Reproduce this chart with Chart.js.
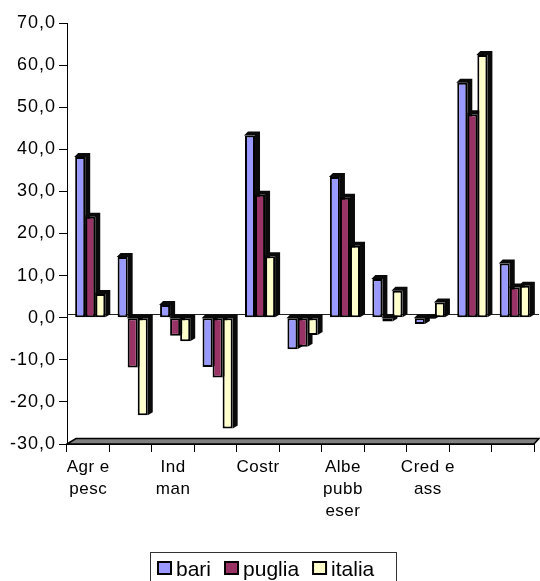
<!DOCTYPE html>
<html>
<head>
<meta charset="utf-8">
<script src="https://cdn.jsdelivr.net/npm/chart.js@4/dist/chart.umd.min.js"></script>
<style>
  html, body { margin: 0; padding: 0; background: #fff; }
  canvas { display: block; }
</style>
</head>
<body>
<canvas id="c" width="540" height="581"></canvas>
<script>
// Sector labels (only every other sector is labelled on the axis)
const categories = [['Agr e', 'pesc'], '', ['Ind', 'man'], '', 'Costr', '', ['Albe', 'pubb', 'eser'], '', ['Cred e', 'ass'], '', ''];
const seriesNames = ['bari', 'puglia', 'italia'];
const bari   = [38.2, 14.4,  3.0, -11.7, 43.3, -7.5, 33.4,  9.2, -1.5, 55.8, 12.9];
const puglia = [24.0, -11.8, -4.3, -14.2, 29.2, -6.9, 28.5, -0.9, -0.3, 48.3,  7.2];
const italia = [ 5.6, -23.2, -5.6, -26.3, 14.6, -4.1, 17.1,  6.4,  3.6, 62.4,  7.6];
const yMin = -30, yMax = 70, yStep = 10;

const colors = ['#9999FF', '#993366', '#FFFFCC'];
const FONT = '"Liberation Sans", Arial, sans-serif';

// Scales that draw their tick labels with a little extra letter spacing
class SpacedLinear extends Chart.LinearScale {
  drawLabels(area) {
    const c = this.ctx; c.save(); c.letterSpacing = '1px';
    super.drawLabels(area); c.restore();
  }
}
SpacedLinear.id = 'spacedLinear';
SpacedLinear.defaults = Chart.LinearScale.defaults;

class SpacedCategory extends Chart.CategoryScale {
  drawLabels(area) {
    const c = this.ctx; c.save(); c.letterSpacing = '0.5px';
    super.drawLabels(area); c.restore();
  }
}
SpacedCategory.id = 'spacedCategory';
SpacedCategory.defaults = Chart.CategoryScale.defaults;
Chart.register(SpacedLinear, SpacedCategory);

const DEPTH_X = 4, DEPTH_Y = -3, SHIFT = 2;

// Back-wall zero line, grey floor and the dark side/top faces of each column
const depthPlugin = {
  id: 'depth',
  beforeDatasetsDraw(chart) {
    const ctx = chart.ctx, a = chart.chartArea, y = chart.scales.y;
    const y0 = y.getPixelForValue(0);
    ctx.save();
    ctx.strokeStyle = '#222'; ctx.lineWidth = 1;
    ctx.beginPath(); ctx.moveTo(a.left, Math.round(y0 - 3.5) + 0.5); ctx.lineTo(a.right + 5, Math.round(y0 - 3.5) + 0.5); ctx.stroke();
    const b = y.getPixelForValue(yMin);
    ctx.fillStyle = '#808080'; ctx.strokeStyle = '#000'; ctx.lineWidth = 1.5;
    ctx.beginPath();
    ctx.moveTo(a.left, b); ctx.lineTo(a.left + 9, b - 5.5);
    ctx.lineTo(a.right + 5, b - 5.5); ctx.lineTo(a.right, b); ctx.closePath();
    ctx.fill(); ctx.stroke();
    ctx.restore();

    ctx.save();
    ctx.translate(SHIFT, 0);
    ctx.fillStyle = '#0a0a0a';
    chart.data.datasets.forEach((ds, i) => {
      chart.getDatasetMeta(i).data.forEach(bar => {
        const p = bar.getProps(['x', 'y', 'base', 'width'], true);
        const x0 = p.x - p.width / 2, x1 = p.x + p.width / 2;
        const top = Math.min(p.y, p.base), bot = Math.max(p.y, p.base);
        ctx.beginPath();
        ctx.moveTo(x0 - 1, top);
        ctx.lineTo(x0 - 1 + DEPTH_X, top + DEPTH_Y - 1);
        ctx.lineTo(x1 + 1 + DEPTH_X, top + DEPTH_Y - 1);
        ctx.lineTo(x1 + 1 + DEPTH_X, bot + DEPTH_Y);
        ctx.lineTo(x1, bot);
        ctx.lineTo(x1, top);
        ctx.closePath();
        ctx.fill();
      });
    });
  },
  afterDatasetsDraw(chart) {
    chart.ctx.restore();
  },
  afterDraw(chart) {
    const ctx = chart.ctx;
    ctx.save();
    ctx.font = '21px ' + FONT;
    ctx.strokeStyle = '#333'; ctx.lineWidth = 1;
    ctx.strokeRect(150.5, 552.5, 246, 40);
    let x = 157;
    chart.data.datasets.forEach(ds => {
      ctx.fillStyle = ds.backgroundColor;
      ctx.fillRect(x, 561, 15, 14);
      ctx.strokeStyle = '#000'; ctx.lineWidth = 2;
      ctx.strokeRect(x + 1, 562, 13, 12);
      ctx.fillStyle = '#000'; ctx.textBaseline = 'alphabetic';
      ctx.fillText(ds.label, x + 19, 576);
      x += 19 + ctx.measureText(ds.label).width + 13;
    });
    ctx.restore();
  }
};

const datasets = [bari, puglia, italia].map((values, i) => ({
  label: seriesNames[i],
  data: values,
  backgroundColor: colors[i],
  borderColor: '#000',
  borderWidth: 2,
  borderSkipped: false,
  categoryPercentage: 0.71,
  barPercentage: 1.0
}));

new Chart(document.getElementById('c'), {
  type: 'bar',
  data: { labels: categories, datasets },
  options: {
    responsive: false,
    devicePixelRatio: 1,
    animation: false,
    layout: { padding: { top: 23, right: 6, bottom: 0, left: 0 } },
    plugins: { legend: { display: false }, tooltip: { enabled: false } },
    scales: {
      x: {
        type: 'spacedCategory',
        afterFit(s) { s.height = 137; },
        grid: { display: true, drawOnChartArea: false, offset: true, color: '#000', tickLength: 8, tickColor: '#000' },
        border: { display: true, color: '#000' },
        ticks: {
          autoSkip: false, maxRotation: 0, color: '#000', padding: 4,
          font: { family: FONT, size: 17, lineHeight: 1.3 }
        }
      },
      y: {
        type: 'spacedLinear',
        min: yMin, max: yMax,
        afterFit(s) { s.width = 67; },
        grid: { display: true, drawOnChartArea: false, color: '#000', tickLength: 8, tickColor: '#000' },
        border: { display: true, color: '#000' },
        ticks: {
          stepSize: yStep, color: '#000', padding: 3,
          font: { family: FONT, size: 18 },
          callback: v => v.toFixed(1).replace('.', ',')
        }
      }
    }
  },
  plugins: [depthPlugin]
});
</script>
</body>
</html>
